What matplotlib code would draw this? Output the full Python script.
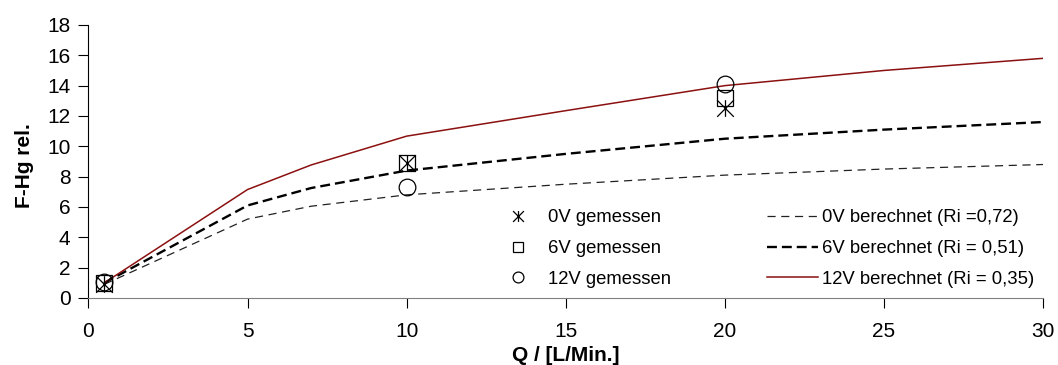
import numpy as np
import matplotlib.pyplot as plt
from matplotlib.path import Path

plt.rcParams['font.family'] = ['Liberation Sans', 'DejaVu Sans']

# Messwerte
q_mess = [0.5, 10, 20]
hg_0v = [0.95, 8.9, 12.5]
hg_6v = [1.0, 8.9, 13.2]
hg_12v = [1.05, 7.3, 14.1]

# berechnete Kurven
q_calc = [0.5, 5, 7, 10, 15, 20, 25, 30]
calc_0v = [0.9, 5.2, 6.05, 6.8, 7.5, 8.1, 8.5, 8.8]
calc_6v = [1.0, 6.1, 7.25, 8.4, 9.5, 10.5, 11.1, 11.6]
calc_12v = [1.0, 7.15, 8.77, 10.67, 12.35, 14.0, 15.0, 15.8]

lab_mess = ['0V gemessen', '6V gemessen', '12V gemessen']
lab_calc = ['0V berechnet (Ri =0,72)', '6V berechnet (Ri = 0,51)', '12V berechnet (Ri = 0,35)']

# Stern wie in Excel: X mit senkrechtem Strich
star = Path([(-1, -1), (1, 1), (-1, 1), (1, -1), (0, -1), (0, 1)],
            [Path.MOVETO, Path.LINETO, Path.MOVETO, Path.LINETO, Path.MOVETO, Path.LINETO])

fig = plt.figure(figsize=(10.58, 3.65), dpi=100)
ax = fig.add_axes([0.0836, 0.1836, 0.9022, 0.748])

red = '#8b1010'
l0, = ax.plot(q_calc, calc_0v, color='#222222', lw=0.9, dashes=(6.5, 4.5))
l6, = ax.plot(q_calc, calc_6v, color='black', lw=1.7, dashes=(4.2, 2.1))
l12, = ax.plot(q_calc, calc_12v, color=red, lw=1.1)

m0, = ax.plot(q_mess, hg_0v, ls='none', marker=star, ms=12, mew=0.9, color='black')
m6, = ax.plot(q_mess, hg_6v, ls='none', marker='s', ms=12, mew=0.9, mfc='none', mec='black')
m12, = ax.plot(q_mess, hg_12v, ls='none', marker='o', ms=12, mew=0.9, mfc='none', mec='black')

ax.set_xlim(0, 30)
ax.set_ylim(0, 18)
ax.set_xticks(range(0, 31, 5))
ax.set_yticks(range(0, 19, 2))
ax.spines['top'].set_visible(False)
ax.spines['right'].set_visible(False)
ax.spines['bottom'].set_color('#808080')
ax.tick_params(axis='x', length=7, pad=10, labelsize=15)
ax.tick_params(axis='y', length=7, pad=6, labelsize=15)

ax.set_xlabel('Q / [L/Min.]', fontsize=15, fontweight='bold')
ax.xaxis.set_label_coords(0.5, -0.175)
ax.set_ylabel('F-Hg rel.', fontsize=15, fontweight='bold')
ax.yaxis.set_label_coords(-0.057, 0.485)

leg = ax.legend([m0, m6, m12, l0, l6, l12], lab_mess + lab_calc, ncol=2,
                loc='lower right', bbox_to_anchor=(1.0085, -0.024), frameon=False,
                fontsize=13.3, markerscale=0.65, handlelength=2.77,
                handletextpad=0.22, columnspacing=5.2, labelspacing=0.75)

fig.savefig('out.png', dpi=100)
